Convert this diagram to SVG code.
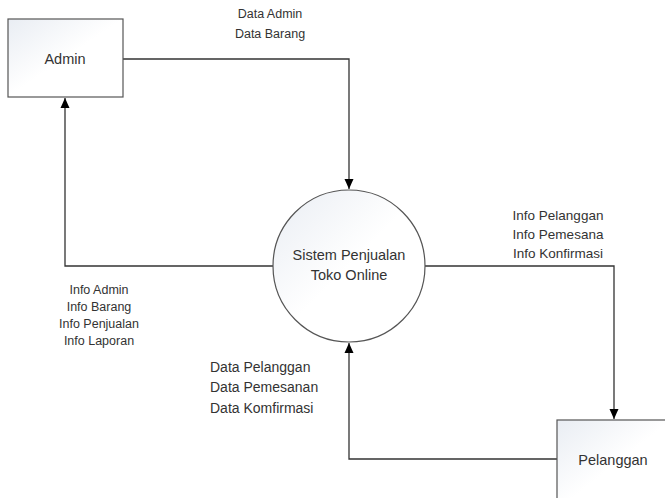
<svg xmlns="http://www.w3.org/2000/svg" width="665" height="498" viewBox="0 0 665 498">
<defs>
<linearGradient id="boxg" x1="0" y1="0" x2="1" y2="1">
<stop offset="0" stop-color="#e9edf3"/>
<stop offset="0.5" stop-color="#ffffff"/>
<stop offset="1" stop-color="#ffffff"/>
</linearGradient>
<marker id="arr" viewBox="0 0 10 10" refX="10" refY="5" markerWidth="10" markerHeight="10" markerUnits="userSpaceOnUse" orient="auto">
<path d="M0,0.5 L10,5 L0,9.5 Z" fill="#000"/>
</marker>
<style>
.t{font-family:"Liberation Sans",Arial,sans-serif;fill:#333;}
.node{fill:url(#boxg);stroke:#555;stroke-width:1.2;}
.conn{fill:none;stroke:#333;stroke-width:1.3;marker-end:url(#arr);}
</style>
</defs>
<rect width="665" height="498" fill="#fff"/>
<g id="connectors">
<path class="conn" d="M123,59 H349 V189"/>
<path class="conn" d="M273,266 H65 V98"/>
<path class="conn" d="M425,266 H614 V419"/>
<path class="conn" d="M557,459 H349 V343"/>
</g>
<g id="admin">
<rect class="node" x="8" y="19" width="115" height="78"/>
<text class="t" x="65" y="64" font-size="14.5" text-anchor="middle">Admin</text>
</g>
<g id="sistem">
<circle class="node" cx="349" cy="266" r="76"/>
<text class="t" x="349" y="260" font-size="14.5" text-anchor="middle">Sistem Penjualan</text>
<text class="t" x="349" y="280" font-size="14.5" text-anchor="middle">Toko Online</text>
</g>
<g id="pelanggan">
<rect class="node" x="557" y="420" width="115" height="90"/>
<text class="t" x="613" y="465" font-size="14.5" text-anchor="middle">Pelanggan</text>
</g>
<g id="labels">
<text class="t" x="270" y="18" font-size="12.5" text-anchor="middle">Data Admin</text>
<text class="t" x="270" y="38" font-size="12.5" text-anchor="middle">Data Barang</text>
<text class="t" x="558" y="220" font-size="13.5" text-anchor="middle">Info Pelanggan</text>
<text class="t" x="558" y="239" font-size="13.5" text-anchor="middle">Info Pemesana</text>
<text class="t" x="558" y="258" font-size="13.5" text-anchor="middle">Info Konfirmasi</text>
<text class="t" x="99" y="294" font-size="12.5" text-anchor="middle">Info Admin</text>
<text class="t" x="99" y="311" font-size="12.5" text-anchor="middle">Info Barang</text>
<text class="t" x="99" y="328" font-size="12.5" text-anchor="middle">Info Penjualan</text>
<text class="t" x="99" y="345" font-size="12.5" text-anchor="middle">Info Laporan</text>
<text class="t" x="210" y="372" font-size="14">Data Pelanggan</text>
<text class="t" x="210" y="392" font-size="14">Data Pemesanan</text>
<text class="t" x="210" y="413" font-size="14">Data Komfirmasi</text>
</g>
</svg>
